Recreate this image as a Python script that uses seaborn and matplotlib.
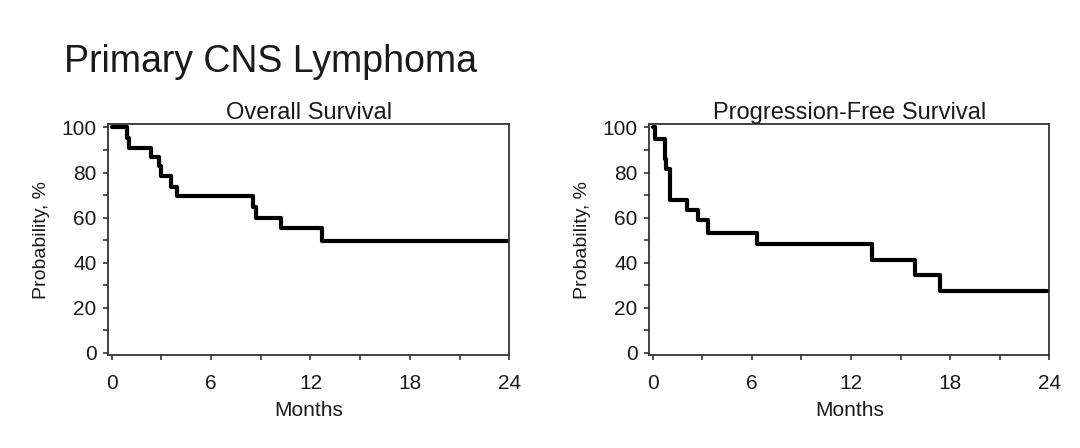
import pandas as pd
import numpy as np
import seaborn as sns
from matplotlib import pyplot as plt
from matplotlib.ticker import MultipleLocator

# Kaplan-Meier step points (months, survival %)
os_months = [0, 0.9, 1.03, 2.37, 2.84, 2.98, 3.58, 3.92, 8.55, 8.71, 10.2, 12.7, 23.85]
os_prob = [100, 95.5, 91.0, 87.0, 83.0, 78.5, 73.8, 69.4, 64.7, 60.0, 55.3, 49.6, 49.6]

pfs_months = [0, 0.16, 0.72, 0.83, 1.03, 2.07, 2.72, 3.38, 6.3, 13.3, 15.9, 17.4, 23.85]
pfs_prob = [100, 94.8, 86.0, 81.5, 67.9, 63.4, 58.9, 53.4, 48.3, 41.3, 34.6, 27.6, 27.6]

panel_titles = ["Overall Survival", "Progression-Free Survival"]
x_ticks = [0, 6, 12, 18, 24]
y_ticks = [0, 20, 40, 60, 80, 100]

sns.set_theme(style="white")
plt.rcParams['font.family'] = ['Liberation Sans', 'DejaVu Sans']
plt.rcParams['text.color'] = '#1a1a1a'
plt.rcParams['axes.labelcolor'] = '#1a1a1a'
plt.rcParams['xtick.color'] = '#1a1a1a'
plt.rcParams['ytick.color'] = '#1a1a1a'

fig = plt.figure(figsize=(10.8, 4.48), dpi=100)
fig.text(0.059, 0.862, "Primary CNS Lymphoma", fontsize=27, ha="left", va="center")

panels = [
    (pd.DataFrame({"Months": os_months, "Prob": os_prob}), [0.1003, 0.2076, 0.3713, 0.515]),
    (pd.DataFrame({"Months": pfs_months, "Prob": pfs_prob}), [0.6012, 0.2076, 0.3704, 0.515]),
]

for (df, rect), title in zip(panels, panel_titles):
    ax = fig.add_axes(rect)
    sns.lineplot(data=df, x="Months", y="Prob", drawstyle="steps-post",
                 color="black", linewidth=3, estimator=None, ax=ax)
    ax.set_xlim(-0.2, 24)
    ax.set_ylim(-0.9, 101.4)
    ax.set_xticks(x_ticks)
    ax.set_yticks(y_ticks)
    ax.xaxis.set_minor_locator(MultipleLocator(3))
    ax.yaxis.set_minor_locator(MultipleLocator(10))
    ax.tick_params(which="both", direction="out", length=3.5, width=1.2,
                   color="#333333", labelsize=15, bottom=True, left=True)
    ax.tick_params(axis="x", pad=10)
    ax.tick_params(axis="y", pad=5)
    for s in ax.spines.values():
        s.set_color("#333333")
        s.set_linewidth(1.3)
    ax.set_title(title, fontsize=17, pad=4)
    ax.set_xlabel("Months", fontsize=15, labelpad=6)
    ax.set_ylabel("Probability, %", fontsize=14, labelpad=8)

fig.savefig("out.png", dpi=100)
